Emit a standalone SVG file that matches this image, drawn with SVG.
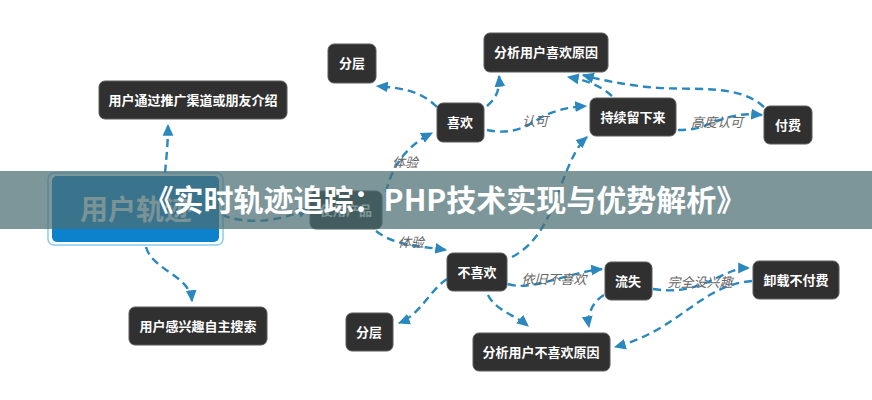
<svg xmlns="http://www.w3.org/2000/svg" width="872" height="400" viewBox="0 0 872 400">
<defs>
<marker id="ah" markerUnits="userSpaceOnUse" markerWidth="12" markerHeight="12" viewBox="0 0 10 10" refX="9" refY="5" orient="auto">
<path d="M0,0.5 L10,5 L0,9.5 Z" fill="#2a88bf"/>
</marker>
<style>
.n rect{fill:#303030;stroke:#5a5a5a;stroke-width:1}
.n text{fill:#ffffff;font-family:"Noto Sans CJK SC","Noto Sans",sans-serif;font-weight:bold;font-size:13px;text-anchor:middle}
.c path{fill:none;stroke:#2a88bf;stroke-width:2.4;stroke-dasharray:8 5;marker-end:url(#ah)}
.lb{fill:#666;font-family:"Noto Sans CJK SC","Noto Sans",sans-serif;font-style:italic;font-size:13px;text-anchor:middle}
</style>
</defs>
<rect width="872" height="400" fill="#ffffff"/>
<g id="connectors" class="c">
<path d="M165,173 C167,152 168,140 168,125"/>
<path d="M146,247 C152,270 190,275 192,301"/>
<path d="M222,215 C250,226 285,220 308,208"/>
<path d="M386,192 C392,165 408,145 432,133"/>
<path d="M376,231 C395,246 420,246 446,250"/>
<path d="M437,107 C420,90 400,88 377,86"/>
<path d="M487,106 C497,98 500,88 499,76"/>
<path d="M487,130 C510,135 525,128 540,118 C555,110 570,107 586,106"/>
<path d="M612,96 C600,85 585,80 568,77"/>
<path d="M764,107 C740,85 700,90 660,88 C630,86 600,80 583,75"/>
<path d="M678,130 C700,130 705,125 720,120 C740,113 750,114 762,115"/>
<path d="M512,257 C545,240 555,200 565,175 C572,158 578,145 587,137"/>
<path d="M447,279 C430,290 420,315 399,323"/>
<path d="M508,284 C530,292 570,272 602,269"/>
<path d="M653,289 C690,295 710,280 730,272 C738,269 742,268 749,268"/>
<path d="M752,281 C700,285 680,330 615,347"/>
<path d="M604,295 C592,302 587,315 589,327"/>
<path d="M488,295 C495,310 515,315 528,326"/>
</g>
<g id="labels">
<text class="lb" x="405" y="167">体验</text>
<text class="lb" x="411" y="247">体验</text>
<text class="lb" x="535" y="126">认可</text>
<text class="lb" x="717" y="127">高度认可</text>
<text class="lb" x="554" y="284">依旧不喜欢</text>
<text class="lb" x="700" y="287">完全没兴趣</text>
</g>
<g id="node-root">
<rect x="48" y="173" width="175" height="72" rx="6" fill="none" stroke="#86cdec" stroke-width="1.5"/>
<rect x="52" y="176" width="167" height="66" rx="5" fill="#0b82cb"/>
<text x="136" y="220" fill="#f2f2f2" font-family="'Noto Sans CJK SC',sans-serif" font-weight="bold" font-size="28" text-anchor="middle">用户轨迹</text>
</g>
<g id="node-promo" class="n"><rect x="99" y="81" width="188" height="38" rx="6"/><text x="193" y="105">用户通过推广渠道或朋友介绍</text></g>
<g id="node-search" class="n"><rect x="129" y="307" width="138" height="38" rx="6"/><text x="198" y="331">用户感兴趣自主搜索</text></g>
<g id="node-use" class="n"><rect x="310" y="191" width="72" height="38" rx="6"/><text x="346" y="215">使用产品</text></g>
<g id="node-layer1" class="n"><rect x="328" y="44" width="48" height="39" rx="6"/><text x="352" y="68">分层</text></g>
<g id="node-like" class="n"><rect x="437" y="103" width="47" height="39" rx="6"/><text x="460" y="127">喜欢</text></g>
<g id="node-likereason" class="n"><rect x="484" y="33" width="124" height="39" rx="6"/><text x="546" y="57">分析用户喜欢原因</text></g>
<g id="node-stay" class="n"><rect x="590" y="98" width="86" height="38" rx="6"/><text x="633" y="122">持续留下来</text></g>
<g id="node-pay" class="n"><rect x="764" y="106" width="48" height="38" rx="6"/><text x="788" y="130">付费</text></g>
<g id="node-dislike" class="n"><rect x="447" y="253" width="60" height="38" rx="6"/><text x="477" y="277">不喜欢</text></g>
<g id="node-layer2" class="n"><rect x="346" y="313" width="47" height="38" rx="6"/><text x="369" y="337">分层</text></g>
<g id="node-lost" class="n"><rect x="605" y="262" width="47" height="38" rx="6"/><text x="628" y="286">流失</text></g>
<g id="node-uninstall" class="n"><rect x="753" y="261" width="86" height="38" rx="6"/><text x="796" y="285">卸载不付费</text></g>
<g id="node-dislikereason" class="n"><rect x="473" y="333" width="137" height="38" rx="6"/><text x="541" y="357">分析用户不喜欢原因</text></g>
<g id="banner">
<rect x="0" y="171" width="872" height="58" fill="#4b6e73" fill-opacity="0.72"/>
<text x="445" y="211" fill="#ffffff" font-family="'Noto Sans CJK SC','Noto Sans',sans-serif" font-weight="bold" font-size="30" text-anchor="middle">《实时轨迹追踪：PHP技术实现与优势解析》</text>
</g>
</svg>
